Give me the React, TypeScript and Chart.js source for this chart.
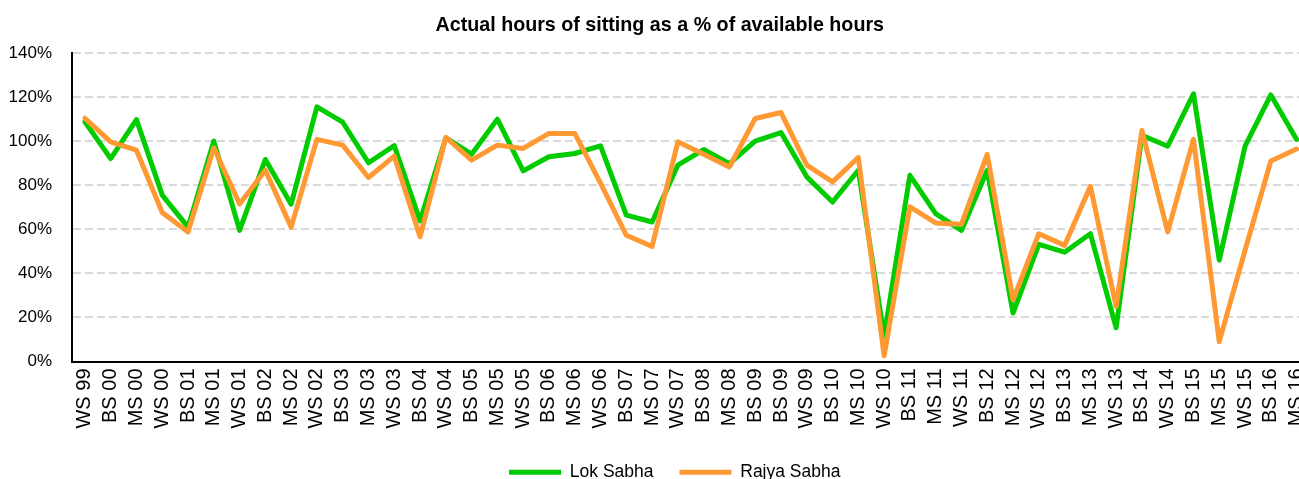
import React, { useEffect, useRef } from "react";
import { Chart, registerables } from "chart.js";

Chart.register(...registerables);

const sessionLabels: string[] = [
  "WS 99", "BS 00", "MS 00", "WS 00", "BS 01", "MS 01", "WS 01", "BS 02", "MS 02", "WS 02",
  "BS 03", "MS 03", "WS 03", "BS 04", "WS 04", "BS 05", "MS 05", "WS 05", "BS 06", "MS 06",
  "WS 06", "BS 07", "MS 07", "WS 07", "BS 08", "MS 08", "BS 09", "BS 09", "WS 09", "BS 10",
  "MS 10", "WS 10", "BS 11", "MS 11", "WS 11", "BS 12", "MS 12", "WS 12", "BS 13", "MS 13",
  "WS 13", "BS 14", "WS 14", "BS 15", "MS 15", "WS 15", "BS 16", "MS 16",
];

const lokSabha: number[] = [
  108.8, 92.1, 109.8, 75.5, 61, 100, 59.5, 91.7, 71.4, 115.6,
  108.6, 90.2, 98, 63.8, 101.5, 94.1, 110, 86.5, 92.9, 94.4,
  97.9, 66.4, 63.3, 89.1, 96.2, 89.8, 100, 103.9, 83.8, 72.4,
  86.8, 11.5, 84.5, 67.1, 59.5, 86.8, 22, 53.2, 49.6, 58,
  15.3, 102.7, 97.7, 121.5, 46, 97.7, 121, 100.8,
];

const rajyaSabha: number[] = [
  110.4, 99.7, 95.9, 67.6, 58.8, 97, 71.5, 86.8, 61, 100.8,
  98.2, 83.5, 93.2, 56.6, 101.7, 91.4, 98.2, 96.7, 103.5, 103.5,
  81, 57.3, 52.2, 99.7, 94.1, 88.3, 110.3, 113, 89.1, 81.5,
  92.6, 2.6, 70.2, 62.9, 62.3, 94, 28, 58, 52.7, 79.5,
  25, 104.8, 58.8, 100.8, 9, 50.5, 91, 96.4,
];

const yTicks: number[] = [0, 20, 40, 60, 80, 100, 120, 140];

const FONT = "'Liberation Sans', Arial, sans-serif";

const legendShift = {
  id: "legendShift",
  afterLayout(chart: any) {
    const lg = chart.legend;
    if (lg) {
      lg.left += 15;
      lg.right += 15;
    }
  },
};

export default function App() {
  const canvasRef = useRef<HTMLCanvasElement | null>(null);

  useEffect(() => {
    const canvas = canvasRef.current;
    if (!canvas) return;
    const chart = new Chart(canvas, {
      type: "line",
      data: {
        labels: sessionLabels,
        datasets: [
          {
            label: "Lok Sabha",
            data: lokSabha,
            borderColor: "#00CC00",
            backgroundColor: "#00CC00",
            borderWidth: 5,
            pointRadius: 0,
            borderCapStyle: "round",
            borderJoinStyle: "round",
            tension: 0,
            order: 1,
          },
          {
            label: "Rajya Sabha",
            data: rajyaSabha,
            borderColor: "#FF9933",
            backgroundColor: "#FF9933",
            borderWidth: 5,
            pointRadius: 0,
            borderCapStyle: "round",
            borderJoinStyle: "round",
            tension: 0,
            order: 0,
          },
        ],
      },
      plugins: [legendShift],
      options: {
        responsive: false,
        animation: false,
        devicePixelRatio: 1,
        layout: { padding: { left: 10, right: 40.5, top: 0, bottom: 3 } },
        plugins: {
          title: {
            display: true,
            text: "Actual hours of sitting as a % of available hours",
            color: "#000",
            font: { family: FONT, size: 19.7, weight: "bold" },
            padding: { top: 14, bottom: 15.4 },
          },
          legend: {
            display: true,
            position: "bottom",
            labels: {
              color: "#000",
              font: { family: FONT, size: 17.5 },
              usePointStyle: true,
              pointStyle: "line",
              pointStyleWidth: 52,
              padding: 26,
              sort: (a: any, b: any) => a.datasetIndex - b.datasetIndex,
            },
          },
          tooltip: { enabled: false },
        },
        scales: {
          x: {
            type: "category",
            offset: true,
            grid: { display: false, drawTicks: false },
            border: { display: true, color: "#000", width: 2 },
            ticks: {
              autoSkip: false,
              minRotation: 90,
              maxRotation: 90,
              padding: 7,
              color: "#000",
              font: { family: FONT, size: 20 },
            },
            afterFit: (s: any) => {
              s.height = 76;
            },
          },
          y: {
            min: 0,
            max: 140,
            afterBuildTicks: (s: any) => {
              s.ticks = yTicks.map((v) => ({ value: v }));
            },
            grid: {
              color: "#d9d9d9",
              lineWidth: 2,
              drawTicks: false,
            },
            border: { display: true, color: "#000", width: 2, dash: [8, 4] },
            ticks: {
              padding: 20,
              color: "#000",
              font: { family: FONT, size: 17 },
              callback: (v: any) => v + "%",
            },
            afterFit: (s: any) => {
              s.width = 62;
            },
          },
        },
      },
    });
    return () => chart.destroy();
  }, []);

  return (
    <div
      style={{
        position: "fixed",
        left: 0,
        top: 0,
        width: 1299,
        height: 479,
        overflow: "hidden",
        background: "#fff",
      }}
    >
      <canvas
        ref={canvasRef}
        width={1350}
        height={494}
        style={{ display: "block", width: 1350, height: 494 }}
      />
    </div>
  );
}
